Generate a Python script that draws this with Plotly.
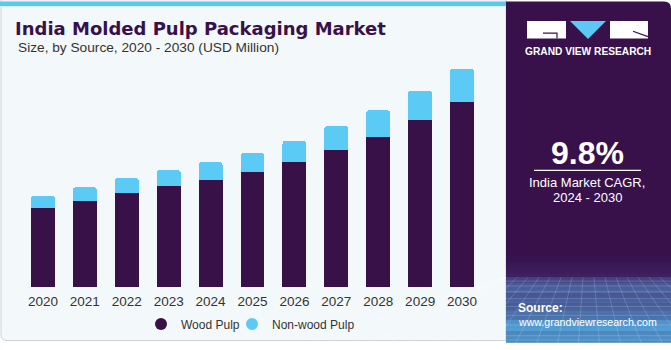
import plotly.graph_objects as go

# ---------------- data ----------------
years = ["2020", "2021", "2022", "2023", "2024", "2025", "2026", "2027", "2028", "2029", "2030"]
wood_pulp = [170.7, 185.4, 202.8, 216.9, 231.5, 247.7, 269.3, 296.0, 323.9, 359.0, 399.5]
non_wood_pulp = [25.2, 29.4, 31.5, 35.0, 37.2, 41.1, 45.6, 50.4, 56.7, 63.6, 70.7]
highlight_year = "2023"
highlight_label = "$251.9M"
cagr_text = "9.8%"

# ---------------- geometry helpers ----------------
W, H = 671, 350
L, R, T, B = 22, 188, 60, 57
PW, PH = W - L - R, H - T - B


def X(px):
    return (px - L) / PW


def Y(py):
    return (H - B - py) / PH


PURPLE = "#371148"
BLUE = "#5BCBF5"
FONT = "Liberation Sans, Arial, sans-serif"

fig = go.Figure()
fig.add_trace(go.Bar(x=years, y=wood_pulp, name="Wood Pulp", marker=dict(color=PURPLE, line=dict(width=0)),
                     showlegend=False))
fig.add_trace(go.Bar(x=years, y=non_wood_pulp, name="Non-wood Pulp", marker=dict(color=BLUE, line=dict(width=0)),
                     showlegend=False))
# legend entries with circular markers (no visible points)
fig.add_trace(go.Scatter(x=[years[0]], y=[None], mode="markers", name="Wood Pulp", legend="legend",
                         marker=dict(color=PURPLE, size=12, symbol="circle")))
fig.add_trace(go.Scatter(x=[years[0]], y=[None], mode="markers", name="Non-wood Pulp", legend="legend2",
                         marker=dict(color=BLUE, size=12, symbol="circle")))

idx = years.index(highlight_year)
ymax = (wood_pulp[idx] + non_wood_pulp[idx]) / 120.0 * PH

shapes = []
r = 6
card_path = (f"M {X(1)},{Y(-2)} L {X(506)},{Y(-2)} L {X(506)},{Y(348)} L {X(1 + r)},{Y(348)} "
             f"Q {X(1)},{Y(348)} {X(1)},{Y(348 - r)} Z")
shapes.append(dict(type="path", xref="paper", yref="paper", path=card_path,
                   fillcolor="#F3F8FB", line=dict(color="#CDD2D6", width=1), layer="below"))
shapes.append(dict(type="rect", xref="paper", yref="paper", x0=X(0), x1=X(506), y0=Y(0), y1=Y(4.5),
                   fillcolor="#5BC8F0", line=dict(width=0), layer="below"))
shapes.append(dict(type="rect", xref="paper", yref="paper", x0=X(0), x1=X(506), y0=Y(4.5), y1=Y(5.8),
                   fillcolor="#DDF1FA", line=dict(width=0), layer="below"))
rr = 7
panel_path = (f"M {X(506)},{Y(0)} L {X(671 - rr)},{Y(0)} Q {X(671)},{Y(0)} {X(671)},{Y(rr)} "
              f"L {X(671)},{Y(350)} L {X(506)},{Y(350)} Z")
shapes.append(dict(type="path", xref="paper", yref="paper", path=panel_path,
                   fillcolor="#38114A", line=dict(width=0), layer="below"))


def lerp(c1, c2, t):
    a = [int(c1[i:i + 2], 16) for i in (1, 3, 5)]
    b = [int(c2[i:i + 2], 16) for i in (1, 3, 5)]
    return "#" + "".join(f"{round(a[k] + (b[k] - a[k]) * t):02x}" for k in range(3))


for py in range(258, 350):
    if py < 283:
        col = lerp("#38114A", "#3E2768", (py - 258) / 25)
    else:
        col = lerp("#474E8E", "#55B3E6", (py - 283) / 67)
    shapes.append(dict(type="rect", xref="paper", yref="paper", x0=X(506), x1=X(671), y0=Y(py), y1=Y(py + 1.05),
                       fillcolor=col, line=dict(width=0), layer="below"))
for gy in [287, 292, 298, 305, 313, 322, 332, 343]:
    shapes.append(dict(type="line", xref="paper", yref="paper", x0=X(506), x1=X(671), y0=Y(gy), y1=Y(gy),
                       line=dict(color="rgba(255,255,255,0.18)", width=1), layer="below"))
for k in range(-6, 18):
    xt = 506 + k * 11
    xb = 588 + (xt - 588) * 1.9
    shapes.append(dict(type="line", xref="paper", yref="paper", x0=X(max(506, min(671, xt))), y0=Y(283),
                       x1=X(xb), y1=Y(350), line=dict(color="rgba(255,255,255,0.16)", width=1), layer="below"))
shapes.append(dict(type="rect", xref="paper", yref="paper", x0=X(671), x1=X(800), y0=Y(400), y1=Y(-10),
                   fillcolor="white", line=dict(width=0), layer="below"))

# logo
shapes.append(dict(type="rect", xref="paper", yref="paper", x0=X(527), x1=X(566), y0=Y(20), y1=Y(38),
                   fillcolor="white", line=dict(width=0)))
shapes.append(dict(type="path", xref="paper", yref="paper",
                   path=f"M {X(543)},{Y(32.5)} L {X(557)},{Y(32.5)} L {X(557)},{Y(38)}",
                   line=dict(color="#38114A", width=1.2)))
shapes.append(dict(type="path", xref="paper", yref="paper",
                   path=f"M {X(570)},{Y(20)} L {X(606)},{Y(20)} L {X(588)},{Y(38.5)} Z",
                   fillcolor="#5BC8F5", line=dict(width=0)))
shapes.append(dict(type="rect", xref="paper", yref="paper", x0=X(610), x1=X(648), y0=Y(20), y1=Y(38),
                   fillcolor="white", line=dict(width=0)))
shapes.append(dict(type="path", xref="paper", yref="paper",
                   path=f"M {X(633)},{Y(30.5)} L {X(648)},{Y(36)}",
                   line=dict(color="#38114A", width=1.2)))
shapes.append(dict(type="line", xref="paper", yref="paper", x0=X(534), x1=X(641), y0=Y(173.3), y1=Y(173.3),
                   line=dict(color="white", width=1.2)))

annotations = [
    dict(text="<b>India Molded Pulp Packaging Market</b>", x=X(13), y=Y(28), xref="paper", yref="paper",
         xanchor="left", yanchor="middle", showarrow=False,
         font=dict(family="DejaVu Sans, Liberation Sans, sans-serif", size=18, color="#38114A")),
    dict(text="Size, by Source, 2020 - 2030 (USD Million)", x=X(16), y=Y(47), xref="paper", yref="paper",
         xanchor="left", yanchor="middle", showarrow=False, font=dict(family=FONT, size=13.7, color="#333333")),
    dict(text=highlight_label, x=highlight_year, y=wood_pulp[idx] + non_wood_pulp[idx], xref="x", yref="y",
         xanchor="center", yanchor="middle", yshift=13, showarrow=False,
         font=dict(family=FONT, size=13.5, color="#333333")),
    dict(text="<b>GRAND VIEW RESEARCH</b>", x=X(587.5), y=Y(51.5), xref="paper", yref="paper",
         xanchor="center", yanchor="middle", showarrow=False, font=dict(family=FONT, size=10.2, color="white")),
    dict(text=f"<b>{cagr_text}</b>", x=X(587), y=Y(155), xref="paper", yref="paper",
         xanchor="center", yanchor="middle", showarrow=False, font=dict(family=FONT, size=32, color="white")),
    dict(text="India Market CAGR,", x=X(587), y=Y(186), xref="paper", yref="paper",
         xanchor="center", yanchor="middle", showarrow=False, font=dict(family=FONT, size=13, color="white")),
    dict(text="2024 - 2030", x=X(587), y=Y(201), xref="paper", yref="paper",
         xanchor="center", yanchor="middle", showarrow=False, font=dict(family=FONT, size=13, color="white")),
    dict(text="<b>Source:</b>", x=X(516), y=Y(315), xref="paper", yref="paper",
         xanchor="left", yanchor="middle", showarrow=False, font=dict(family=FONT, size=12, color="white")),
    dict(text="www.grandviewresearch.com", x=X(516), y=Y(329), xref="paper", yref="paper",
         xanchor="left", yanchor="middle", showarrow=False, font=dict(family=FONT, size=10.6, color="white")),
]

legend_style = dict(orientation="h", yanchor="middle", y=Y(331), xanchor="left",
                    font=dict(family=FONT, size=12, color="#333333"), bgcolor="rgba(0,0,0,0)", itemwidth=30)

fig.update_layout(
    width=W, height=H,
    margin=dict(l=L, r=R, t=T, b=B, pad=0),
    barmode="stack", bargap=0.43, barcornerradius=3,
    paper_bgcolor="white", plot_bgcolor="rgba(0,0,0,0)",
    shapes=shapes, annotations=annotations,
    xaxis=dict(type="category", categoryorder="array", categoryarray=years, range=[-0.5, len(years) - 0.5],
               showgrid=False, showline=False, zeroline=False, ticks="",
               tickfont=dict(family=FONT, size=13.5, color="#333333"), ticklabelstandoff=4),
    yaxis=dict(range=[0, ymax], visible=False, showgrid=False, zeroline=False),
    legend=dict(legend_style, x=X(141)),
    legend2=dict(legend_style, x=X(232)),
    font=dict(family=FONT),
)

fig.write_html("out.html")
